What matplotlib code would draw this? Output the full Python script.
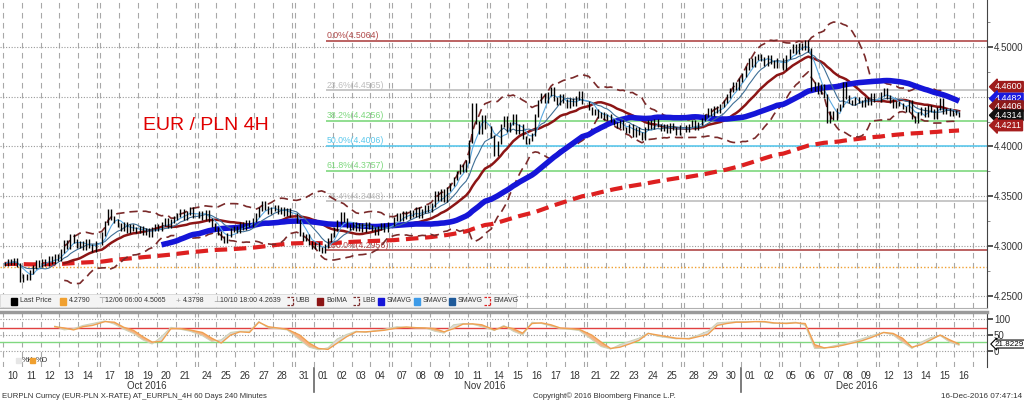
import numpy as np
import pandas as pd
import matplotlib
matplotlib.use('Agg')
import matplotlib.pyplot as plt
from matplotlib.patches import Rectangle
from matplotlib.lines import Line2D

plt.rcParams['font.family'] = ['Liberation Sans', 'DejaVu Sans']

# 4H closes, one row per trading day (Oct 10 .. Dec 16 2016)
days = pd.bdate_range('2016-10-10', '2016-12-16')
bars_per_day = [6] * 49 + [2]
closes = [
    4.282, 4.285, 4.283, 4.286, 4.281, 4.266,  # Oct 10
    4.270, 4.268, 4.274, 4.279, 4.284, 4.281,
    4.285, 4.282, 4.288, 4.284, 4.290, 4.287,
    4.295, 4.304, 4.299, 4.310, 4.305, 4.300,
    4.303, 4.298, 4.305, 4.300, 4.296, 4.303,
    4.312, 4.323, 4.335, 4.328, 4.325, 4.321,  # Oct 17
    4.317, 4.322, 4.315, 4.320, 4.317, 4.315,
    4.318, 4.313, 4.316, 4.311, 4.317, 4.320,
    4.317, 4.322, 4.326, 4.320, 4.325, 4.328,
    4.331, 4.335, 4.328, 4.333, 4.337, 4.330,
    4.333, 4.328, 4.334, 4.326, 4.321, 4.317,  # Oct 24
    4.313, 4.308, 4.305, 4.311, 4.316, 4.318,
    4.315, 4.322, 4.318, 4.324, 4.321, 4.326,
    4.331, 4.337, 4.343, 4.338, 4.334, 4.337,
    4.339, 4.334, 4.337, 4.332, 4.336, 4.331,
    4.325, 4.312, 4.307, 4.310, 4.303, 4.299,  # Oct 31
    4.302, 4.297, 4.295, 4.300, 4.306, 4.311,
    4.317, 4.324, 4.332, 4.326, 4.320, 4.318,
    4.322, 4.317, 4.321, 4.316, 4.322, 4.319,
    4.317, 4.313, 4.318, 4.321, 4.316, 4.322,
    4.327, 4.331, 4.327, 4.333, 4.329, 4.334,  # Nov 07
    4.331, 4.337, 4.330, 4.335, 4.339, 4.336,
    4.341, 4.353, 4.347, 4.355, 4.346, 4.357,
    4.362, 4.368, 4.374, 4.381, 4.376, 4.385,
    4.405, 4.442, 4.424, 4.414, 4.430, 4.419,
    4.410, 4.392, 4.404, 4.421, 4.429, 4.416,  # Nov 14
    4.423, 4.431, 4.414, 4.421, 4.409, 4.404,
    4.407, 4.412, 4.431, 4.445, 4.452, 4.446,
    4.453, 4.458, 4.448, 4.443, 4.451, 4.446,
    4.440, 4.447, 4.442, 4.449, 4.454, 4.444,
    4.438, 4.433, 4.436, 4.430, 4.433, 4.428,  # Nov 21
    4.431, 4.426, 4.423, 4.420, 4.425, 4.418,
    4.415, 4.421, 4.411, 4.418, 4.413, 4.408,
    4.418, 4.425, 4.419, 4.426, 4.421, 4.417,
    4.421, 4.415, 4.422, 4.418, 4.413, 4.420,
    4.416, 4.421, 4.425, 4.418, 4.423, 4.427,  # Nov 28
    4.431, 4.437, 4.432, 4.439, 4.435, 4.441,
    4.445, 4.451, 4.457, 4.463, 4.459, 4.467,
    4.472, 4.479, 4.487, 4.482, 4.489, 4.491,
    4.488, 4.483, 4.490, 4.485, 4.481, 4.487,
    4.479, 4.490, 4.496, 4.501, 4.495, 4.502,  # Dec 05
    4.499, 4.505, 4.497, 4.458, 4.463, 4.455,
    4.461, 4.451, 4.425, 4.434, 4.428, 4.437,
    4.441, 4.463, 4.450, 4.445, 4.443, 4.448,
    4.445, 4.441, 4.448, 4.443, 4.452, 4.447,
    4.453, 4.457, 4.450, 4.446, 4.440, 4.444,  # Dec 12
    4.442, 4.439, 4.436, 4.445, 4.429, 4.425,
    4.433, 4.438, 4.431, 4.440, 4.436, 4.429,
    4.438, 4.447, 4.434, 4.437, 4.432, 4.435,
    4.433, 4.431,
]

# stochastic %K / %D, two readings per day (last day one)
nan = np.nan
stoch_d = [
    nan, nan, nan, nan, nan, 76, 72, 66, 76, 80,
    92, 90, 74, 65, 45, 28, 30, 70, 70, 66,
    58, 40, 25, 50, 60, 58, 90, 76, 72, 68,
    50, 25, 8, 5, 25, 45, 60, 60, 62, 65,
    72, 75, 73, 72, 70, 60, 70, 84, 85, 82,
    66, 76, 70, 56, 86, 88, 82, 72, 70, 68,
    50, 28, 8, 12, 22, 33, 55, 50, 45, 40,
    38, 45, 52, 80, 86, 90, 90, 92, 92, 88,
    86, 88, 86, 20, 10, 12, 18, 25, 32, 42,
    58, 55, 40, 12, 20, 35, 50, 35, 21.8,
]
stoch_k = [
    nan, nan, nan, nan, nan, 78, 66, 70, 80, 86,
    94, 84, 68, 55, 35, 22, 45, 74, 68, 62,
    48, 30, 35, 58, 62, 62, 92, 72, 70, 66,
    35, 12, 4, 10, 38, 52, 62, 58, 64, 68,
    76, 74, 72, 72, 62, 56, 82, 86, 84, 76,
    64, 80, 62, 50, 90, 86, 78, 70, 68, 64,
    36, 14, 6, 20, 30, 40, 56, 46, 42, 38,
    40, 50, 62, 88, 90, 92, 92, 92, 90, 86,
    88, 90, 80, 8, 8, 16, 22, 30, 38, 48,
    58, 50, 28, 8, 28, 42, 48, 28, 18,
]

fib_names = ['0.0%', '23.6%', '38.2%', '50.0%', '61.8%', '76.4%', '100.0%']
fib_levels = [4.5064, 4.4565, 4.4256, 4.4006, 4.3757, 4.3448, 4.2956]
fib_colors = ['#b04848', '#bdbdbd', '#7ed87e', '#5cc8ec', '#7ed87e', '#bdbdbd', '#b04848']
last_price_line = 4.2790

tag_values = ['4.4600', '4.4482', '4.4406', '4.4314', '4.4211']
tag_colors = ['#9e1b1b', '#1a1adf', '#8c1a1a', '#111111', '#a61e1e']
stoch_last = '21.8229'

W, H = 1024, 401
fig = plt.figure(figsize=(W / 100, H / 100), dpi=100)
fig.patch.set_facecolor('white')


def fx(px):
    return px / W


def fy(py):
    return 1 - py / H


ax = fig.add_axes([0, fy(308), fx(987), 308 / H])
ax2 = fig.add_axes([0, fy(367), fx(987), 55 / H])

# bar positions: 6 slots a day, one empty slot over each weekend
week = ((days - days[0]).days // 7).to_numpy()
day_start = 6 * np.arange(len(days)) + week
xs = np.concatenate([day_start[i] + np.arange(n) + 0.5 for i, n in enumerate(bars_per_day)])
xs_half = np.concatenate([day_start[i] + np.array([1.5, 4.5])[:max(1, n // 3)]
                          for i, n in enumerate(bars_per_day)])

c = pd.Series(closes)
opens = c.shift(1).fillna(c.iloc[0])
bolma = c.rolling(20).mean()
sd = c.rolling(20).std(ddof=0)
ubb = bolma + 2 * sd
lbb = bolma - 2 * sd
sma_big = c.rolling(50).mean()
sma_fast = c.rolling(5, min_periods=1).mean()
sma_mid = c.rolling(10, min_periods=1).mean()
ema = c.ewm(span=200, adjust=False).mean()

xmin, xmax = -0.95, 313.4
for a in (ax, ax2):
    a.set_xlim(xmin, xmax)
    a.set_facecolor('white')
    for s in ('left', 'top', 'bottom'):
        a.spines[s].set_visible(False)
    a.spines['right'].set_color('#444444')
    a.tick_params(axis='x', length=0, labelbottom=False)
    # day gridlines, doubled over the weekend
    for i, s0 in enumerate(day_start):
        a.axvline(s0, color='#a8a8a8', lw=0.8, ls=(0, (5, 4)), zorder=0)
        if days[i].weekday() == 4:
            a.axvline(s0 + 6, color='#a8a8a8', lw=0.8, ls=(0, (5, 4)), zorder=0)

ax.set_ylim(4.2377, 4.5472)
for v in np.arange(4.25, 4.51, 0.05):
    ax.axhline(v, color='#9a9a9a', lw=0.8, ls=(0, (1, 1.5)), zorder=0)
ax.axhline(last_price_line, color='#f0a030', lw=1, ls=(0, (1, 1.5)), zorder=1)
ax.spines['bottom'].set_visible(True)
ax.spines['bottom'].set_color('#b0b0b0')

fib_x0 = 103
for name, lvl, col in zip(fib_names, fib_levels, fib_colors):
    ax.hlines(lvl, fib_x0, xmax, color=col, lw=1.2, zorder=1)
    ax.text(fib_x0, lvl + 0.0006, f'{name}({lvl:.4f})', color=col, fontsize=6.3,
            va='bottom', ha='left', zorder=2)

# indicators
ax.plot(xs, ema, color='#dd2020', lw=3, ls=(0, (3, 1.6)), zorder=3)
ax.plot(xs, ubb, color='#7a2a2a', lw=1.2, ls=(0, (5, 3)), zorder=3)
ax.plot(xs, lbb, color='#7a2a2a', lw=1.2, ls=(0, (5, 3)), zorder=3)
ax.plot(xs, bolma, color='#8c1515', lw=1.8, zorder=4)
ax.plot(xs, sma_big, color='#1515d8', lw=4, zorder=5, solid_capstyle='butt')
ax.plot(xs, sma_mid, color='#3f6f96', lw=0.8, zorder=5)
ax.plot(xs, sma_fast, color='#5aa8e0', lw=0.8, zorder=5)

# price bars
lows = np.minimum(opens, c)
highs = np.maximum(opens, c)
ax.vlines(xs, lows - 0.0018, highs + 0.0018, color='black', lw=1, zorder=6)

ax.yaxis.tick_right()
ax.set_yticks([4.25, 4.30, 4.35, 4.40, 4.50])
ax.set_yticklabels(['4.2500', '4.3000', '4.3500', '4.4000', '4.5000'])
ax.set_yticks(np.arange(4.25, 4.526, 0.025), minor=True)
ax.tick_params(axis='y', which='major', length=4, width=1.2, color='#333333',
               labelsize=7, labelcolor='#333333', pad=1)
ax.tick_params(axis='y', which='minor', length=2, color='#777777')

for val, col in zip(tag_values, tag_colors):
    ax.text(1.008, float(val), val, transform=ax.get_yaxis_transform(), color='white',
            fontsize=6.5, va='center', ha='left', zorder=10, clip_on=False,
            bbox=dict(boxstyle='larrow,pad=0.08', fc=col, ec=col))

# stochastic panel
ax2.set_ylim(-50, 122)
for v in (0, 50, 100):
    ax2.axhline(v, color='#9a9a9a', lw=0.8, ls=(0, (1, 1.5)), zorder=0)
ax2.axhline(72, color='#e04040', lw=1, zorder=1)
ax2.axhline(29, color='#80d880', lw=1, zorder=1)
kk = np.array(stoch_k, dtype=float)
dd = np.array(stoch_d, dtype=float)
ok = ~np.isnan(dd)
ax2.fill_between(xs_half[ok], kk[ok], dd[ok], where=kk[ok] < dd[ok], interpolate=True,
                 color='#f6b383', lw=0, zorder=2)
ax2.fill_between(xs_half[ok], kk[ok], dd[ok], where=kk[ok] >= dd[ok], interpolate=True,
                 color='#dcdcdc', lw=0, zorder=2)
ax2.plot(xs_half, kk, color='#cfd2b8', lw=0.8, zorder=3)
ax2.plot(xs_half, dd, color='#f0a050', lw=1, zorder=3)
ax2.yaxis.tick_right()
ax2.set_yticks([0, 50, 100])
ax2.tick_params(axis='y', length=4, width=1.2, color='#333333', labelsize=7,
                labelcolor='#333333', pad=1)
ax2.text(1.008, float(stoch_last), stoch_last, transform=ax2.get_yaxis_transform(),
         color='black', fontsize=5.8, va='center', ha='left', zorder=10, clip_on=False,
         bbox=dict(boxstyle='larrow,pad=0.06', fc='white', ec='black', lw=0.8))
ax2.spines['top'].set_visible(True)
ax2.spines['top'].set_color('#9a9a9a')
ax2.spines['top'].set_linewidth(2.5)

# day labels and month labels
centers = day_start + 3
ax2.set_xticks(centers)
ax2.set_xticklabels(days.strftime('%d'), fontsize=7, color='#333333')
ax2.tick_params(axis='x', labelbottom=True, pad=3)
for px_ in (314, 741):
    fig.add_artist(Line2D([fx(px_), fx(px_)], [fy(368), fy(392)], color='#666666', lw=1.2))
for lab, px_ in (('Oct 2016', 147), ('Nov 2016', 485), ('Dec 2016', 857)):
    fig.text(fx(px_), fy(386), lab, fontsize=7, color='#333333', ha='center', va='center')

fig.text(fx(2), fy(396), 'EURPLN Curncy (EUR-PLN X-RATE) AT_EURPLN_4H 60 Days 240 Minutes',
         fontsize=5.6, color='#333333', va='center')
fig.text(fx(533), fy(396), 'Copyright\u00a9 2016 Bloomberg Finance L.P.', fontsize=5.6,
         color='#333333', va='center')
fig.text(fx(1022), fy(396), '16-Dec-2016 07:47:14', fontsize=5.9, color='#333333',
         va='center', ha='right')

fig.text(fx(143), fy(125), 'EUR / PLN 4H', color='#e00000', fontsize=14, va='center')

# legend strip
fig.add_artist(Rectangle((0, fy(307)), fx(516), 13 / H, transform=fig.transFigure,
                         fc='#f4f4f4', ec='#d8d8d8', lw=0.6, zorder=8))
ly = fy(301)
legend_items = [
    ('sq', 'black', 11, 'Last Price'),
    ('sq', '#f0a030', 60, '4.2790'),
    ('\u22a4', '#999999', 98, '12/06 06:00 4.5065'),
    ('+', '#999999', 176, '4.3798'),
    ('\u22a5', '#999999', 213, '10/10 18:00 4.2639'),
    ('dash', '#7a2a2a', 287, 'UBB'),
    ('sq', '#8c1515', 317, 'BolMA'),
    ('dash', '#7a2a2a', 353, 'LBB'),
    ('sq', '#1515d8', 378, 'SMAVG'),
    ('sq', '#3d9be8', 414, 'SMAVG'),
    ('sq', '#1f5a9a', 449, 'SMAVG'),
    ('dash', '#dd2020', 484, 'EMAVG'),
]
for kind, col, px_, lab in legend_items:
    if kind == 'sq':
        fig.add_artist(Rectangle((fx(px_), fy(305)), fx(6), 7 / H, transform=fig.transFigure,
                                 fc=col, ec=col, zorder=9))
        tx = px_ + 9
    elif kind == 'dash':
        fig.add_artist(Line2D([fx(px_), fx(px_ + 6), fx(px_ + 6)], [fy(297), fy(297), fy(305)],
                              color=col, lw=0.9, ls=(0, (2, 1)), zorder=9))
        fig.add_artist(Line2D([fx(px_), fx(px_ + 6)], [fy(305), fy(305)],
                              color=col, lw=0.9, ls=(0, (2, 1)), zorder=9))
        tx = px_ + 9
    else:
        fig.text(fx(px_), ly, kind, color=col, fontsize=6, va='center', zorder=9)
        tx = px_ + 7
    fig.text(fx(tx), ly, lab, color='#333333', fontsize=5, va='center', zorder=9)

fig.add_artist(Rectangle((fx(16), fy(363)), fx(5), 5 / H, transform=fig.transFigure,
                         fc='#e6e6e6', ec='#e6e6e6', zorder=9))
fig.text(fx(22), fy(360), '%K', color='#333333', fontsize=5.5, va='center')
fig.add_artist(Rectangle((fx(30), fy(363)), fx(5), 5 / H, transform=fig.transFigure,
                         fc='#f0a030', ec='#f0a030', zorder=9))
fig.text(fx(36), fy(360), '%D', color='#333333', fontsize=5.5, va='center')

fig.savefig('out.png', dpi=100)
